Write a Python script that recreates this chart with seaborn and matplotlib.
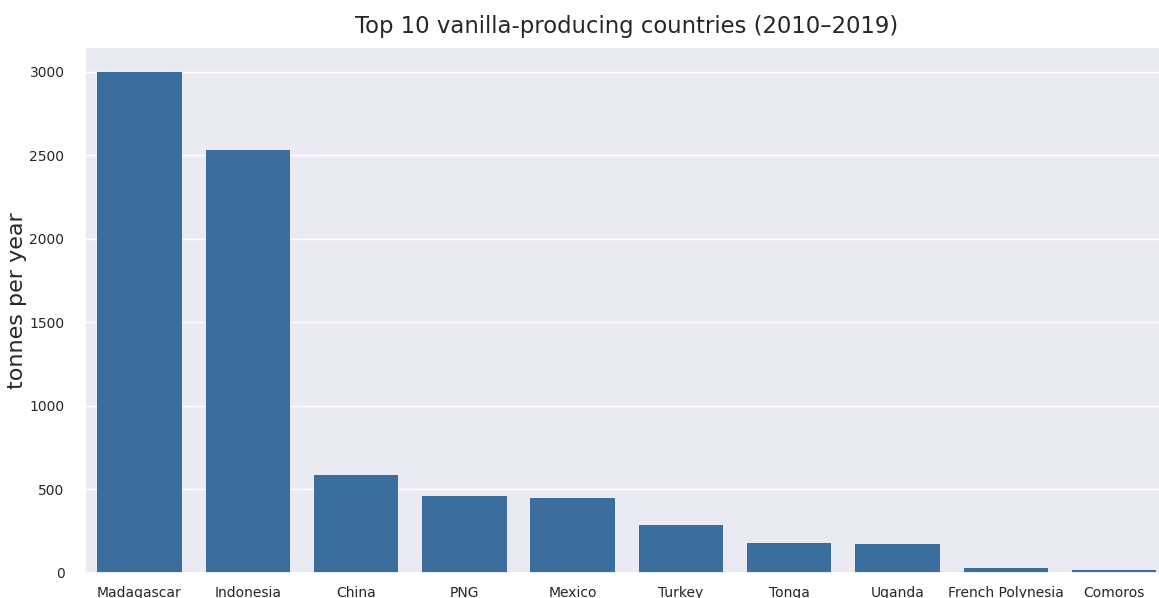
import matplotlib
matplotlib.use("Agg")
import matplotlib.pyplot as plt
import seaborn as sns
import pandas as pd

countries = ["Madagascar", "Indonesia", "China", "PNG", "Mexico", "Turkey",
             "Tonga", "Uganda", "French Polynesia", "Comoros"]
production = [2997, 2530, 588, 457, 448, 288, 178, 174, 28, 14]
yticks = [0, 500, 1000, 1500, 2000, 2500, 3000]

sns.set_theme(style="darkgrid")
plt.rcParams['font.family'] = ['DejaVu Sans']

df = pd.DataFrame({"country": countries, "tonnes": production})

fig = plt.figure(figsize=(11.59, 5.98), dpi=100)
ax = fig.add_axes([85.3 / 1159, 25.3 / 598, 1083 / 1159, 526 / 598])
sns.barplot(data=df, x="country", y="tonnes", color="#3b6e9c", saturation=1,
            ax=ax, width=0.78, linewidth=0)
ax.set_xlabel("")
ax.set_ylabel("tonnes per year", fontsize=16)
ax.yaxis.set_label_coords(-58 / 1083, 0.517)
ax.tick_params(axis="x", labelsize=10, pad=3.5)
ax.tick_params(axis="y", labelsize=10, pad=9)
ax.set_ylim(0, 3150)
ax.set_yticks(yticks)
ax.set_title("Top 10 vanilla-producing countries (2010\u20132019)", fontsize=16.4, pad=10)
fig.savefig("out.png", dpi=100)
